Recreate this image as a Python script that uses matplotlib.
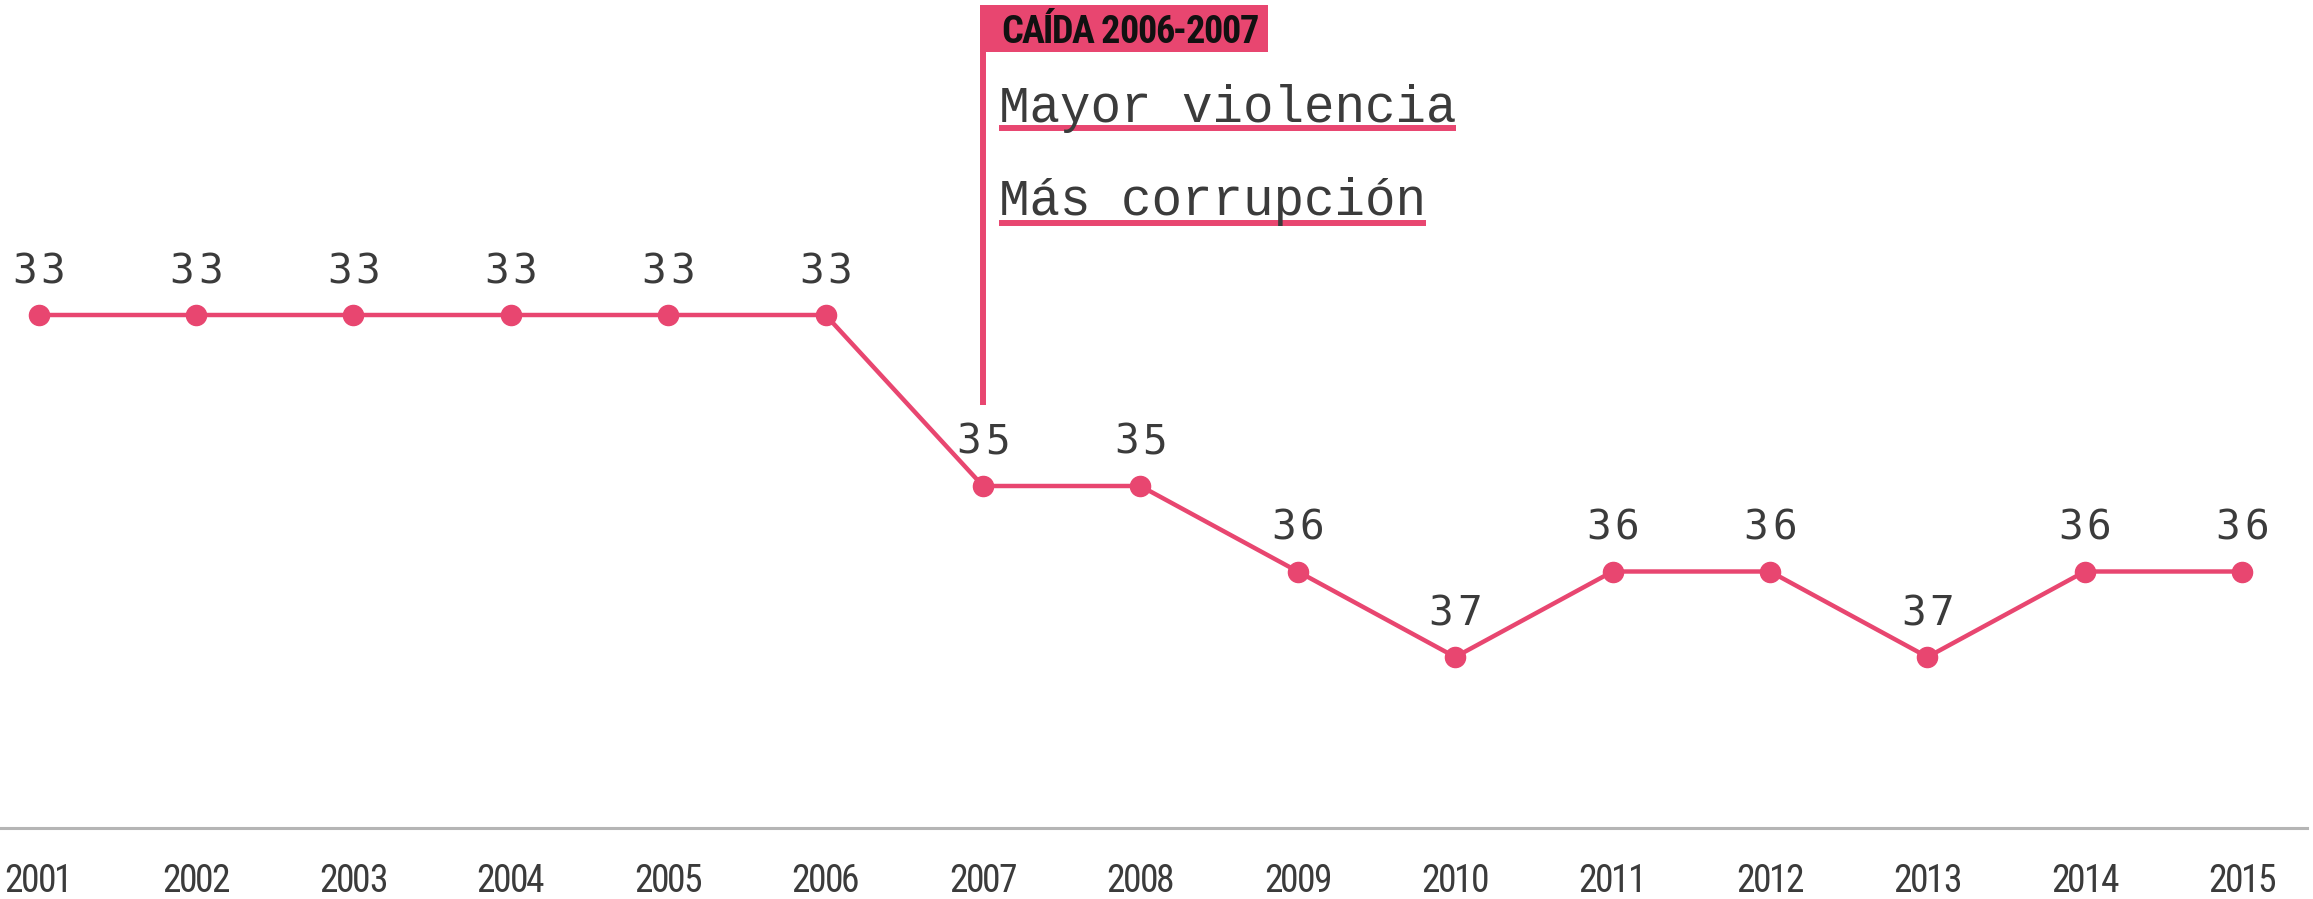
import matplotlib
matplotlib.use("Agg")
import matplotlib.pyplot as plt
import matplotlib.font_manager as fm
import matplotlib.transforms as mtransforms
from matplotlib.patches import Rectangle
from matplotlib.lines import Line2D

# ---------------- data ----------------
years = [2001, 2002, 2003, 2004, 2005, 2006, 2007, 2008, 2009, 2010, 2011, 2012, 2013, 2014, 2015]
ranks = [33, 33, 33, 33, 33, 33, 35, 35, 36, 37, 36, 36, 37, 36, 36]
year_labels = [str(y) for y in years]
note_year = 2007
note_title = "CAÍDA 2006-2007"
note_lines = ["Mayor violencia", "Más corrupción"]

# ---------------- style ----------------
PINK = "#E84670"
DARK = "#3b3b3b"
GRID = "#b5b5b5"
W, H, DPI = 2313, 899, 100
PT = 72.0 / DPI  # points per pixel


def find_font(cands):
    files = [f.fname for f in fm.fontManager.ttflist]
    for c in cands:
        for p in files:
            if c.lower() in p.lower().replace("-", "").replace("_", ""):
                return p
    return None


cond_reg = find_font(["robotocondensedregular", "robotocondensed.", "liberationsansnarrowregular",
                      "liberationsansnarrow.", "dejavusanscondensed."])
cond_bold = find_font(["robotocondensedbold.", "liberationsansnarrowbold.", "dejavusanscondensedbold."])
fp_tick = fm.FontProperties(fname=cond_reg, size=27) if cond_reg else fm.FontProperties(family="DejaVu Sans", size=24)
fp_box = fm.FontProperties(fname=cond_bold, size=27.5) if cond_bold else fm.FontProperties(family="DejaVu Sans", weight="bold", size=22)
fp_val = fm.FontProperties(family="DejaVu Sans Mono", size=29.5)

fig = plt.figure(figsize=(W / DPI, H / DPI), dpi=DPI)
fig.patch.set_facecolor("white")
ax = fig.add_axes([0, 0, 1, 1])
ax.axis("off")
renderer = fig.canvas.get_renderer()

# layout: pixel positions of first/last year and of rank 33
x_first_px, x_last_px = 38.5, 2242.3
step = (x_last_px - x_first_px) / (years[-1] - years[0])
ax.set_xlim(years[0] - x_first_px / step, years[-1] + (W - x_last_px) / step)
r_px, r0, r_scale = 315, 33, 85.5
ax.set_ylim(r0 + (H - r_px) / r_scale, r0 - r_px / r_scale)

# baseline
ax.axhline(39, xmin=0, xmax=2307 / W, color=GRID, lw=2.2, zorder=1)

# series
ax.plot(years, ranks, color=PINK, lw=3.2, marker="o", ms=14.5, mec=PINK, mfc=PINK,
        solid_joinstyle="round", zorder=3)

# value labels with letter spacing (pitch in px between char centres)
pitch = 28.5
for yr, r in zip(years, ranks):
    s = str(r)
    n = len(s)
    for i, ch in enumerate(s):
        dx = (i - (n - 1) / 2) * pitch
        ax.annotate(ch, (yr, r), xytext=(dx * PT, 32 * PT), textcoords="offset points",
                    ha="center", va="baseline", fontproperties=fp_val, color=DARK, zorder=4)


# ---------------- helpers ----------------
def fy(py):
    return 1 - py / H


def fxp(px):
    return px / W


def adv(ch, prop):
    w2 = renderer.get_text_width_height_descent("H" + ch + "H", prop, ismath=False)[0]
    w1 = renderer.get_text_width_height_descent("HH", prop, ismath=False)[0]
    return w2 - w1


def tracked_text(x0_px, base_px, text, prop, target_w, color, center=False):
    advs = [adv(c, prop) for c in text]
    natural = sum(advs)
    track = (target_w - natural) / max(len(text) - 1, 1)
    x = x0_px - (target_w / 2 if center else 0)
    for c, a in zip(text, advs):
        fig.text(fxp(x), fy(base_px), c, ha="left", va="baseline", fontproperties=prop,
                 color=color, zorder=6)
        x += a + track


# x labels (tracked, centred under each point)
for yr, lab in zip(years, year_labels):
    xc = ax.transData.transform((yr, 0))[0]
    tracked_text(xc, 892, lab, fp_tick, 68, DARK, center=True)

# ---------------- annotation ----------------
blend = mtransforms.blended_transform_factory(ax.transData, ax.transAxes)
x_note_px = ax.transData.transform((note_year, 0))[0]
ax.add_line(Line2D([note_year, note_year], [fy(5), fy(405)], transform=blend,
                   color=PINK, lw=4.3, solid_capstyle="butt", zorder=2))
left_px = x_note_px - 3
fig.patches.append(Rectangle((fxp(left_px), fy(52)), fxp(1273 - 985), (52 - 5) / H,
                             transform=fig.transFigure, facecolor=PINK, edgecolor="none", zorder=5))
tracked_text(left_px + 21, 43, note_title, fp_box, 258, "#111111")

for line_txt, base_px, ul_px in zip(note_lines, [122, 215], [128, 223]):
    t = fig.text(fxp(left_px + 19), fy(base_px), line_txt, ha="left", va="baseline",
                 family="Liberation Mono", fontsize=36.6, color=DARK)
    bb = t.get_window_extent(renderer)
    fig.lines.append(Line2D([bb.x0 / W, bb.x1 / W], [fy(ul_px), fy(ul_px)],
                            transform=fig.transFigure, color=PINK, lw=4.3,
                            solid_capstyle="butt"))

fig.savefig("out.png", dpi=DPI, facecolor="white")
